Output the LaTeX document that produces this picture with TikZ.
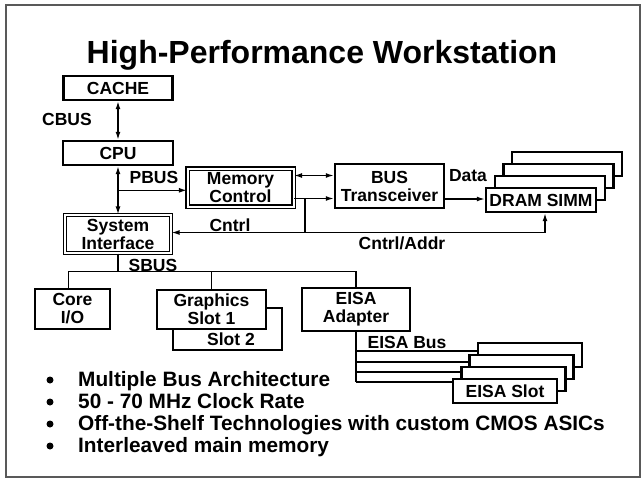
\documentclass[tikz,border=0pt]{standalone}
\usepackage{fontspec}
\setmainfont{Liberation Sans}
\usetikzlibrary{arrows.meta,positioning,calc}
\newcommand{\lblfont}{\fontsize{17.5}{18}\selectfont\bfseries}
\tikzset{
  unit/.style={draw, line width=2.4pt, fill=white, inner sep=0pt, font=\lblfont, align=center},
  dunit/.style={unit, double, double distance=2pt, line width=1.2pt},
  bus/.style={line width=1.4pt},
  lbl/.style={font=\lblfont, inner sep=0pt},
}

\begin{document}
\begin{tikzpicture}[x=1pt,y=-1pt, >={Latex[length=8pt,width=5pt]}]
    \useasboundingbox (0,0) rectangle (642,480);
    % slide frame
    \draw[line width=1.5pt, black!65] (6,5) rectangle (640,477);
    \node[font=\fontsize{32}{34}\selectfont\bfseries, anchor=base, inner sep=0pt] (title) at (322,63) {High-Performance Workstation};

    % processor side
    \node[unit, minimum width=109pt, minimum height=24pt] (cache) at (118,88) {CACHE};
    \node[unit, minimum width=110pt, minimum height=24pt] (cpu) at (118,153) {CPU};
    \node[dunit, minimum width=106pt, minimum height=38pt] (sysif) at (118,234) {System\\Interface};
    \node[dunit, minimum width=106pt, minimum height=38pt] (memctl) at (240.5,187.5) {Memory\\Control};
    \node[unit, minimum width=109pt, minimum height=44pt] (bustr) at (389.5,186) {BUS\\Transceiver};

    % memory modules, back ones first
    \foreach \i in {3,2,1}
        \node[unit, minimum width=110pt, minimum height=24pt] (dram\i) at ({541+8.7*\i},{200-12*\i}) {};
    \node[unit, minimum width=110pt, minimum height=24pt] (dram) at (541,200) {DRAM SIMM};

    % I/O side
    \node[unit, minimum width=75pt, minimum height=40pt] (coreio) at (72.5,309) {Core\\I/O};
    \node[unit, minimum width=109pt, minimum height=42pt] (gfx2) at (227.5,329) {};
    \node[unit, minimum width=109pt, minimum height=39pt] (gfx1) at (211.5,309.5) {Graphics\\Slot 1};
    \node[lbl] (slot2) at (231,339) {Slot 2};
    \node[unit, minimum width=108pt, minimum height=43pt] (eisaad) at (356,309.5) {EISA\\Adapter};
    \foreach \i in {3,2,1}
        \node[unit, minimum width=104pt, minimum height=24pt] (eisa\i) at ({505+8.3*\i},{391-12*\i}) {};
    \node[unit, minimum width=104pt, minimum height=24pt] (eisaslot) at (505,391) {EISA Slot};

    % buses
    \draw[bus,<->] (cache) -- (cpu);
    \draw[bus,<->] (cpu) -- (sysif);
    \coordinate (pb) at ($(cpu.south)!0.5!(sysif.north)$);
    \draw[bus,->] (pb) -- (pb -| memctl.west);
    \coordinate (mc1) at ($(memctl.east)+(0,-12)$);
    \coordinate (mc2) at ($(memctl.east)+(0,11)$);
    \draw[bus,<->] (mc1) -- (mc1 -| bustr.west);
    \draw[bus,->] (mc2) -- (mc2 -| bustr.west);
    \coordinate (ct) at ($(mc2)+(11,34)$);
    \draw[bus] (mc2 -| ct) -- (ct);
    \draw[bus,->] (ct) -- (ct -| sysif.east);
    \draw[bus,->] (ct) -| ($(dram.south)+(4,0)$);
    \coordinate (dt) at ($(bustr.east)+(0,13)$);
    \draw[bus,->] (dt) -- (dt -| dram.west);

    \coordinate (sbus) at ($(sysif.south)+(0,18)$);
    \draw[bus] (sysif.south) -- (sbus);
    \draw[bus] ($(coreio.north)+(-4,0)$) |- (eisaad.north |- sbus) -- (eisaad.north);
    \draw[bus] (gfx1.north) -- (gfx1.north |- sbus);

    \draw[bus] (eisaad.south) -- (eisaad.south |- 0,382);
    \foreach \s/\y in {eisa3/351,eisa2/362,eisa1/372,eisaslot/382}
        \draw[bus] (eisaad.south |- 0,\y) -- (\s.west |- 0,\y);

    % bus labels
    \node[lbl] (cbus) at (67,119) {CBUS};
    \node[lbl] (pbus) at (154,177) {PBUS};
    \node[lbl] (cntrl) at (230,225) {Cntrl};
    \node[lbl] (data) at (468,176) {Data};
    \node[lbl] (cntrladdr) at (402,243) {Cntrl/Addr};
    \node[lbl] (sbuslbl) at (153,265) {SBUS};
    \node[lbl] (eisabus) at (407,342) {EISA Bus};

    % bullet list
    \foreach \y/\txt in {380/Multiple Bus Architecture, 402/50 - 70 MHz Clock Rate, 424/Off-the-Shelf Technologies with custom CMOS ASICs, 446/Interleaved main memory} {
        \fill (50,\y) circle (3.5pt);
        \node[font=\fontsize{20.8}{22}\selectfont\bfseries, anchor=base west, inner sep=0pt] (pt\y) at (78,\y+6) {\txt};
    }
\end{tikzpicture}
\end{document}
